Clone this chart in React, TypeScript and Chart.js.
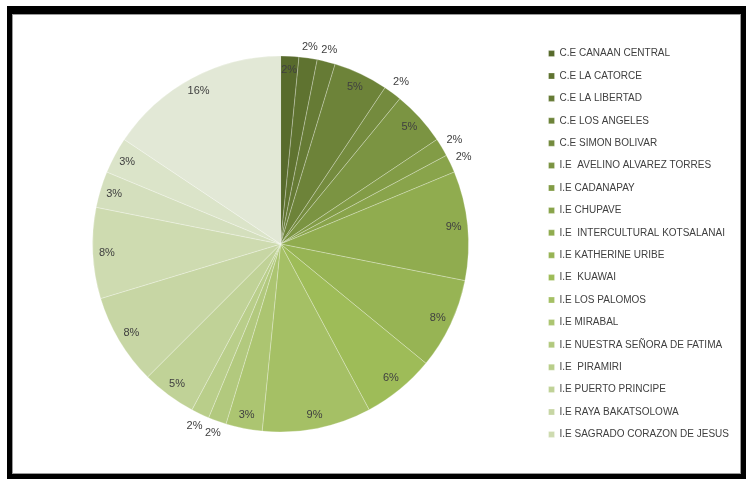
import React, { useEffect, useRef } from "react";
import { Chart, registerables } from "chart.js";

Chart.register(...registerables);

const schools: string[] = [
  "C.E CANAAN CENTRAL",
  "C.E LA CATORCE",
  "C.E LA LIBERTAD",
  "C.E LOS ANGELES",
  "C.E SIMON BOLIVAR",
  "I.E  AVELINO ALVAREZ TORRES",
  "I.E CADANAPAY",
  "I.E CHUPAVE",
  "I.E  INTERCULTURAL KOTSALANAI",
  "I.E KATHERINE URIBE",
  "I.E  KUAWAI",
  "I.E LOS PALOMOS",
  "I.E MIRABAL",
  "I.E NUESTRA SEÑORA DE FATIMA",
  "I.E  PIRAMIRI",
  "I.E PUERTO PRINCIPE",
  "I.E RAYA BAKATSOLOWA",
  "I.E SAGRADO CORAZON DE JESUS",
  "Otra 19",
  "Otra 20",
  "Otra 21",
];

const counts: number[] = [1, 1, 1, 3, 1, 3, 1, 1, 6, 5, 4, 6, 2, 1, 1, 3, 5, 5, 2, 2, 10];

const legendShown = 18;

const palette: string[] = [
  "#586B2C", "#5F7330", "#667B35", "#6D8339", "#748B3E", "#7B9442", "#829C46",
  "#89A44B", "#90AC4F", "#97B454", "#9EBC58", "#A5C065", "#ACC571", "#B2C97E",
  "#B9CE8A", "#C0D297", "#C7D6A4", "#CEDBB0", "#D4DFBD", "#DBE4C9", "#E2E8D6",
];

const FONT = "'Liberation Sans', Arial, sans-serif";

const pctLabels = {
  id: "pctLabels",
  afterDatasetsDraw(chart: any) {
    const ctx = chart.ctx;
    const meta = chart.getDatasetMeta(0);
    const data: number[] = chart.data.datasets[0].data;
    const total = data.reduce((a, b) => a + b, 0);
    ctx.save();
    ctx.font = `11px ${FONT}`;
    ctx.fillStyle = "#404040";
    ctx.textAlign = "center";
    ctx.textBaseline = "middle";
    meta.data.forEach((arc: any, i: number) => {
      const { x, y, startAngle, endAngle, outerRadius } = arc.getProps(
        ["x", "y", "startAngle", "endAngle", "outerRadius"],
        true
      );
      const mid = (startAngle + endAngle) / 2;
      const text = Math.round((data[i] / total) * 100) + "%";
      const w = ctx.measureText(text).width;
      const h = 11;
      const outside = data[i] <= 1 && i !== 0;
      const cx = Math.cos(mid);
      const sy = Math.sin(mid);
      let dist: number;
      if (outside) {
        dist = outerRadius + 5 + Math.abs(cx) * (w / 2) + Math.abs(sy) * (h / 2);
      } else {
        dist = outerRadius * 0.925;
      }
      ctx.fillText(text, x + cx * dist, y + sy * dist);
    });
    ctx.restore();
  },
};

export default function App() {
  const canvasRef = useRef<HTMLCanvasElement | null>(null);

  useEffect(() => {
    if (!canvasRef.current) return;
    const chart = new Chart(canvasRef.current, {
      type: "pie",
      data: {
        labels: schools,
        datasets: [
          {
            data: counts,
            backgroundColor: palette,
            borderColor: "rgba(255,255,255,0.35)",
            borderWidth: 0.75,
            radius: 188,
          } as any,
        ],
      },
      options: {
        animation: false,
        responsive: true,
        maintainAspectRatio: false,
        layout: { padding: { left: 12, right: 0, top: 0, bottom: 0 } },
        plugins: {
          tooltip: { enabled: false },
          legend: {
            position: "right",
            labels: {
              boxWidth: 6,
              boxHeight: 6,
              padding: 12.4,
              color: "#404040",
              font: { family: FONT, size: 10, lineHeight: 1.25 },
              filter: (item: any) => item.index < legendShown,
            },
          },
        },
      },
      plugins: [pctLabels],
    });
    return () => chart.destroy();
  }, []);

  return (
    <div
      style={{
        position: "fixed",
        left: 0,
        top: 0,
        width: 746,
        height: 479,
        background: "#ffffff",
        overflow: "hidden",
      }}
    >
      <div
        style={{
          position: "absolute",
          left: 7,
          top: 6,
          width: 739,
          height: 473,
          boxSizing: "border-box",
          borderStyle: "solid",
          borderColor: "#000",
          borderWidth: "8px 5px 5px 5px",
        }}
      >
        <div
          style={{
            position: "absolute",
            inset: 0,
            border: "1px solid #9a9a9a",
            background: "#fff",
          }}
        />
      </div>
      <div style={{ position: "absolute", left: 13, top: 15, width: 726, height: 458 }}>
        <canvas ref={canvasRef} />
      </div>
    </div>
  );
}
